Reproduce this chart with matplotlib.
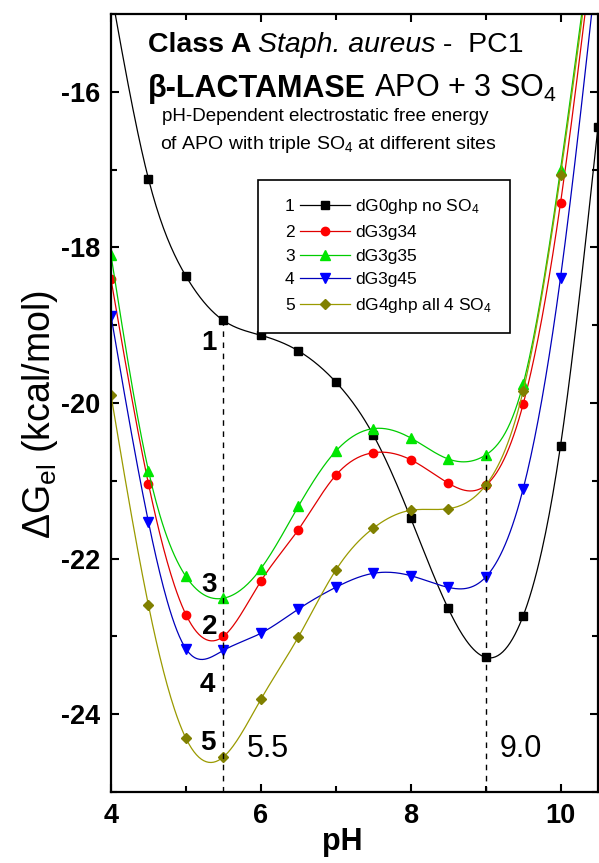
import numpy as np
import matplotlib
matplotlib.use('Agg')
import matplotlib.pyplot as plt
from matplotlib.legend_handler import HandlerLine2D
from matplotlib.lines import Line2D
from matplotlib.text import Text

####################################################################################

plt.rcParams['font.family'] = ['Liberation Sans', 'DejaVu Sans']
plt.rcParams['mathtext.default'] = 'regular'
plt.rcParams['axes.unicode_minus'] = False

FIGURE_XSIZE = 5.99
FIGURE_YSIZE = 8.63

# data
ph = [4.0, 4.5, 5.0, 5.5, 6.0, 6.5, 7.0, 7.5, 8.0, 8.5, 9.0, 9.5, 10.0, 10.5]

dg0ghp_no_so4 = [-14.70, -17.12, -18.37, -18.94, -19.13, -19.33, -19.73,
                 -20.41, -21.48, -22.64, -23.27, -22.74, -20.55, -16.45]
dg3g34 = [-18.41, -21.04, -22.72, -23.00, -22.29, -21.63, -20.93,
          -20.64, -20.73, -21.03, -21.06, -20.02, -17.43, -13.60]
dg3g35 = [-18.10, -20.87, -22.23, -22.51, -22.13, -21.33, -20.62,
          -20.33, -20.45, -20.72, -20.67, -19.76, -17.00, -13.40]
dg3g45 = [-18.88, -21.53, -23.16, -23.18, -22.96, -22.65, -22.37,
          -22.19, -22.22, -22.37, -22.24, -21.11, -18.39, -14.25]
dg4ghp_all_so4 = [-19.90, -22.60, -24.31, -24.55, -23.81, -23.01, -22.15,
                  -21.61, -21.38, -21.36, -21.06, -19.85, -17.07, -13.50]

series_labels = ['dG0ghp no SO$_4$', 'dG3g34', 'dG3g35', 'dG3g45', 'dG4ghp all 4 SO$_4$']
series_numbers = ['1', '2', '3', '4', '5']
marked_ph = [5.5, 9.0]
marked_text = ['5.5', '9.0']

####################################################################################

def natural_spline(x, y, n=400):
    x = np.asarray(x, float)
    y = np.asarray(y, float)
    npts = len(x)
    h = np.diff(x)
    A = np.zeros((npts, npts))
    b = np.zeros(npts)
    A[0, 0] = A[-1, -1] = 1.0
    for i in range(1, npts - 1):
        A[i, i - 1] = h[i - 1]
        A[i, i] = 2 * (h[i - 1] + h[i])
        A[i, i + 1] = h[i]
        b[i] = 3 * ((y[i + 1] - y[i]) / h[i] - (y[i] - y[i - 1]) / h[i - 1])
    c = np.linalg.solve(A, b)
    xs = np.linspace(x[0], x[-1], n)
    idx = np.clip(np.searchsorted(x, xs) - 1, 0, npts - 2)
    dx = xs - x[idx]
    bc = (y[idx + 1] - y[idx]) / h[idx] - h[idx] * (2 * c[idx] + c[idx + 1]) / 3
    dc = (c[idx + 1] - c[idx]) / (3 * h[idx])
    return xs, y[idx] + bc * dx + c[idx] * dx ** 2 + dc * dx ** 3


class NumberedHandler(HandlerLine2D):
    # draws "n ---o---" : a number in front of the line sample
    def __init__(self, number, **kw):
        super().__init__(**kw)
        self.number = number

    def create_artists(self, legend, orig_handle, xdescent, ydescent,
                       width, height, fontsize, trans):
        num_off = 0.55 * fontsize
        line_off = 1.4 * fontsize
        artists = super().create_artists(legend, orig_handle, xdescent - line_off,
                                         ydescent, width - line_off, height,
                                         fontsize, trans)
        t = Text(-xdescent + num_off, height / 2 - ydescent, self.number,
                 fontsize=fontsize, ha='left', va='center_baseline')
        t.set_transform(trans)
        return [t] + list(artists)


def rich_line(axes, x, y, pieces, size):
    prev = None
    for s, weight, style in pieces:
        if prev is None:
            prev = axes.text(x, y, s, fontsize=size, fontweight=weight, style=style,
                             ha='left', va='bottom', transform=axes.transAxes)
        else:
            prev = axes.annotate(s, xy=(1, 0), xycoords=prev, fontsize=size,
                                 fontweight=weight, style=style, ha='left', va='bottom')

####################################################################################

figure = plt.figure(figsize=(FIGURE_XSIZE, FIGURE_YSIZE), dpi=100, facecolor='white')
axes = figure.add_axes([0.1853, 0.0823, 0.813, 0.9016])

styles = [
    ('black', 'black', 's', 5.5),
    ('#ff0000', '#e00000', 'o', 6.0),
    ('#00e600', '#00cc00', '^', 6.5),
    ('#0000ff', '#0000bb', 'v', 6.5),
    ('#808000', '#9a9a00', 'D', 5.5),
]
all_series = [dg0ghp_no_so4, dg3g34, dg3g35, dg3g45, dg4ghp_all_so4]

handles = []
for values, (mcolor, lcolor, marker, msize) in zip(all_series, styles):
    xs, ys = natural_spline(ph, values)
    axes.plot(xs, ys, color=lcolor, linewidth=0.9)
    axes.plot(ph, values, linestyle='none', marker=marker, markersize=msize,
              color=mcolor, markeredgecolor=mcolor)
    handles.append(Line2D([], [], color=lcolor, linewidth=0.9, marker=marker,
                          markersize=msize, markerfacecolor=mcolor,
                          markeredgecolor=mcolor))

# dashed guides at the two marked pH values
for p in marked_ph:
    i = ph.index(p)
    top = max(s[i] for s in all_series)
    axes.vlines(p, -25, top, colors='black', linestyles=(0, (4, 4)), linewidth=1.0)

axes.set_xlim(4, 10.5)
axes.set_ylim(-25, -15)
axes.set_xticks([4, 6, 8, 10])
axes.set_xticks([5, 7, 9], minor=True)
axes.set_yticks([-24, -22, -20, -18, -16])
axes.set_yticks([-25, -23, -21, -19, -17, -15], minor=True)
axes.tick_params(which='both', direction='in', top=True, right=True, width=1.5)
axes.tick_params(which='major', length=6, labelsize=19.5, pad=8)
axes.tick_params(which='minor', length=4)
for lab in axes.get_xticklabels() + axes.get_yticklabels():
    lab.set_fontweight('bold')
for sp in axes.spines.values():
    sp.set_linewidth(1.6)

axes.set_xlabel('pH', fontsize=22, fontweight='bold', labelpad=0)
axes.xaxis.set_label_coords(0.475, -0.045)
axes.set_ylabel('ΔG$_{el}$ (kcal/mol)', fontsize=27)
axes.yaxis.set_label_coords(-0.105, 0.485)

# curve numbers and pH markers
number_pos = [(5.31, -19.23), (5.32, -22.88), (5.31, -22.34), (5.28, -23.62), (5.29, -24.37)]
for num, (px, py) in zip(series_numbers, number_pos):
    axes.text(px, py, num, fontsize=20, fontweight='bold', ha='center', va='center')
for p, s, off in zip(marked_ph, marked_text, [0.31, 0.19]):
    axes.text(p + off, -24.45, s, fontsize=22, ha='left', va='center')

# title block
rich_line(axes, 0.075, 0.943, [('Class A ', 'bold', 'normal'),
                              ('Staph. aureus', 'normal', 'italic'),
                              (' -  PC1', 'normal', 'normal')], 20.5)
rich_line(axes, 0.075, 0.884, [('β-LACTAMASE', 'bold', 'normal'),
                              (' APO + 3 SO$_4$', 'normal', 'normal')], 22)
axes.text(0.105, 0.879, 'pH-Dependent electrostatic free energy', fontsize=13.5,
          ha='left', va='top', transform=axes.transAxes)
axes.text(0.1, 0.846, 'of APO with triple SO$_4$ at different sites', fontsize=14,
          ha='left', va='top', transform=axes.transAxes)

legend = axes.legend(handles, series_labels, loc='upper left',
                     bbox_to_anchor=(0.302, 0.787), borderaxespad=0,
                     numpoints=1, fontsize=12.5,
                     handlelength=4.3, handletextpad=0.3, labelspacing=0.5,
                     borderpad=1.0, fancybox=False, framealpha=1,
                     edgecolor='black',
                     handler_map={h: NumberedHandler(n) for h, n in zip(handles, series_numbers)})
legend.get_frame().set_linewidth(1.2)

plt.savefig('out.png', dpi=100)
